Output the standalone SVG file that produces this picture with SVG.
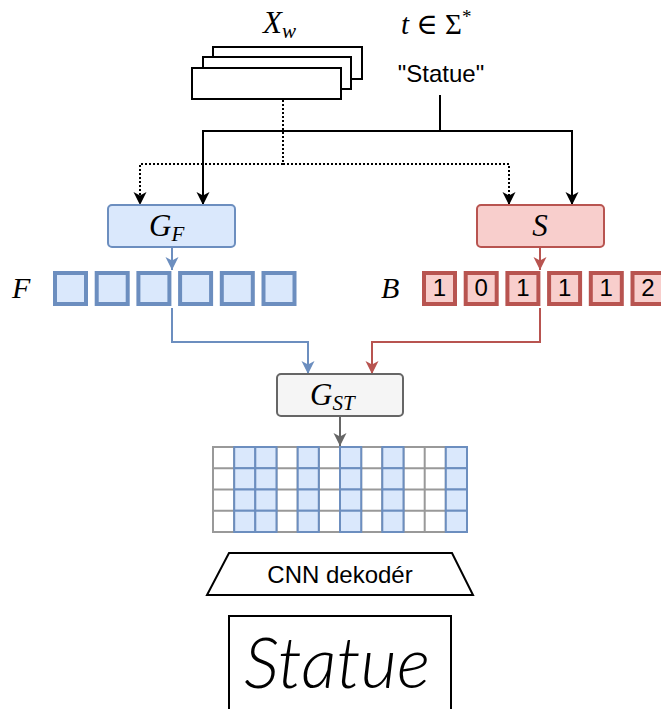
<svg xmlns="http://www.w3.org/2000/svg" width="661" height="709" viewBox="0 0 661 709">
  <style>
    .math { font-family: "Liberation Serif", "DejaVu Serif", serif; font-style: italic; fill: #000; }
    .up { font-style: normal; }
    .sans { font-family: "Liberation Sans", Arial, sans-serif; fill: #000; }
    .hand { font-family: "Lato", "Roboto", "Open Sans", sans-serif; font-weight: 300; font-style: italic; fill: #000; }
    .blk { fill: #fff; stroke: #000; stroke-width: 2; }
    .wire { fill: none; stroke-width: 2; }
    .cell-f { fill: #dae8fc; stroke: #6c8ebf; stroke-width: 4; }
    .cell-b { fill: #f8cecc; stroke: #b85450; stroke-width: 4; }
    .gcell { fill: #dae8fc; stroke: #6c8ebf; stroke-width: 2; }
  </style>
  <defs>
    <marker id="ah-black" viewBox="0 0 14 14" refX="13" refY="7" markerWidth="14" markerHeight="14" markerUnits="userSpaceOnUse" orient="auto">
      <path d="M0,0.5 L13,7 L0,13.5 L3.5,7 z" fill="#000"/>
    </marker>
    <marker id="ah-blue" viewBox="0 0 14 14" refX="13" refY="7" markerWidth="14" markerHeight="14" markerUnits="userSpaceOnUse" orient="auto">
      <path d="M0,0.5 L13,7 L0,13.5 L3.5,7 z" fill="#6c8ebf"/>
    </marker>
    <marker id="ah-red" viewBox="0 0 14 14" refX="13" refY="7" markerWidth="14" markerHeight="14" markerUnits="userSpaceOnUse" orient="auto">
      <path d="M0,0.5 L13,7 L0,13.5 L3.5,7 z" fill="#b85450"/>
    </marker>
    <marker id="ah-gray" viewBox="0 0 14 14" refX="13" refY="7" markerWidth="14" markerHeight="14" markerUnits="userSpaceOnUse" orient="auto">
      <path d="M0,0.5 L13,7 L0,13.5 L3.5,7 z" fill="#666"/>
    </marker>
  </defs>

  <!-- connectors -->
  <g id="connectors">
    <path class="wire" stroke="#000" stroke-dasharray="2 2" d="M283,100 V164 H140 V205" marker-end="url(#ah-black)"/>
    <path class="wire" stroke="#000" stroke-dasharray="2 2" d="M283,164 H509 V205" marker-end="url(#ah-black)"/>
    <path class="wire" stroke="#000" d="M440,95 V131 H203 V205" marker-end="url(#ah-black)"/>
    <path class="wire" stroke="#000" d="M440,131 H572 V205" marker-end="url(#ah-black)"/>
    <path class="wire" stroke="#6c8ebf" stroke-width="1.5" d="M172,247 V270" marker-end="url(#ah-blue)"/>
    <path class="wire" stroke="#6c8ebf" stroke-width="1.5" d="M172,308 V342 H308 V374" marker-end="url(#ah-blue)"/>
    <path class="wire" stroke="#b85450" stroke-width="1.5" d="M540,247 V270" marker-end="url(#ah-red)"/>
    <path class="wire" stroke="#b85450" stroke-width="1.5" d="M540,308 V342 H372 V374" marker-end="url(#ah-red)"/>
    <path class="wire" stroke="#666" stroke-width="1.5" d="M340,416 V446" marker-end="url(#ah-gray)"/>
  </g>

  <!-- stack of input word images -->
  <g id="xw">
    <rect class="blk" x="213" y="47" width="149" height="32"/>
    <rect class="blk" x="203" y="57" width="148" height="32"/>
    <rect class="blk" x="192" y="68" width="149" height="31"/>
    <text class="math" x="263" y="33" font-size="31">X<tspan font-size="21" dy="5">w</tspan></text>
  </g>

  <!-- transcription input -->
  <g id="text-input">
    <text class="math" x="401" y="34" font-size="29">t <tspan class="up">∈ Σ</tspan><tspan class="up" font-size="19" dy="-11">*</tspan></text>
    <text class="sans" x="441" y="82" font-size="24" text-anchor="middle">"Statue"</text>
  </g>

  <!-- feature generator -->
  <g id="gf">
    <rect x="108" y="205" width="127" height="42" rx="4" fill="#dae8fc" stroke="#6c8ebf" stroke-width="2"/>
    <text class="math" x="149" y="236" font-size="31">G<tspan font-size="21" dy="5">F</tspan></text>
  </g>

  <!-- spacing predictor -->
  <g id="s">
    <rect x="477" y="205" width="127" height="42" rx="4" fill="#f8cecc" stroke="#b85450" stroke-width="2"/>
    <text class="math" x="540" y="236" font-size="31" text-anchor="middle">S</text>
  </g>

  <!-- feature vector F -->
  <g id="f-row">
    <text class="math" x="12" y="298" font-size="30">F</text>
    <rect class="cell-f" x="55" y="273" width="31" height="31"/>
    <rect class="cell-f" x="96.7" y="273" width="31" height="31"/>
    <rect class="cell-f" x="138.4" y="273" width="31" height="31"/>
    <rect class="cell-f" x="180.1" y="273" width="31" height="31"/>
    <rect class="cell-f" x="221.8" y="273" width="31" height="31"/>
    <rect class="cell-f" x="263.5" y="273" width="31" height="31"/>
  </g>

  <!-- spacing vector B -->
  <g id="b-row">
    <text class="math" x="381" y="298" font-size="30">B</text>
    <rect class="cell-b" x="424" y="273" width="31" height="31"/>
    <rect class="cell-b" x="465.7" y="273" width="31" height="31"/>
    <rect class="cell-b" x="507.4" y="273" width="31" height="31"/>
    <rect class="cell-b" x="549.1" y="273" width="31" height="31"/>
    <rect class="cell-b" x="590.8" y="273" width="31" height="31"/>
    <rect class="cell-b" x="632.5" y="273" width="31" height="31"/>
    <g class="sans" font-size="24" text-anchor="middle">
      <text x="439.5" y="296">1</text>
      <text x="481.2" y="296">0</text>
      <text x="522.9" y="296">1</text>
      <text x="564.6" y="296">1</text>
      <text x="606.3" y="296">1</text>
      <text x="648" y="296">2</text>
    </g>
  </g>

  <!-- spatial-temporal assembly -->
  <g id="gst">
    <rect x="277" y="374" width="126" height="42" rx="4" fill="#f5f5f5" stroke="#666" stroke-width="2"/>
    <text class="math" x="310" y="405" font-size="31">G<tspan font-size="21" dy="5">ST</tspan></text>
  </g>

  <!-- assembled feature map -->
  <g id="feature-map">
    <rect x="213" y="447" width="254" height="85" fill="#fff" stroke="#999" stroke-width="2"/>
    <path fill="none" stroke="#999" stroke-width="2" d="M234.2,447 V532 M255.3,447 V532 M276.5,447 V532 M297.7,447 V532 M318.8,447 V532 M340,447 V532 M361.2,447 V532 M382.3,447 V532 M403.5,447 V532 M424.7,447 V532 M445.8,447 V532 M213,468.25 H467 M213,489.5 H467 M213,510.75 H467"/>
    <g>
      <rect class="gcell" x="234.2" y="447" width="21.1" height="21.25"/>
      <rect class="gcell" x="234.2" y="468.25" width="21.1" height="21.25"/>
      <rect class="gcell" x="234.2" y="489.5" width="21.1" height="21.25"/>
      <rect class="gcell" x="234.2" y="510.75" width="21.1" height="21.25"/>
      <rect class="gcell" x="255.3" y="447" width="21.2" height="21.25"/>
      <rect class="gcell" x="255.3" y="468.25" width="21.2" height="21.25"/>
      <rect class="gcell" x="255.3" y="489.5" width="21.2" height="21.25"/>
      <rect class="gcell" x="255.3" y="510.75" width="21.2" height="21.25"/>
      <rect class="gcell" x="297.7" y="447" width="21.1" height="21.25"/>
      <rect class="gcell" x="297.7" y="468.25" width="21.1" height="21.25"/>
      <rect class="gcell" x="297.7" y="489.5" width="21.1" height="21.25"/>
      <rect class="gcell" x="297.7" y="510.75" width="21.1" height="21.25"/>
      <rect class="gcell" x="340" y="447" width="21.2" height="21.25"/>
      <rect class="gcell" x="340" y="468.25" width="21.2" height="21.25"/>
      <rect class="gcell" x="340" y="489.5" width="21.2" height="21.25"/>
      <rect class="gcell" x="340" y="510.75" width="21.2" height="21.25"/>
      <rect class="gcell" x="382.3" y="447" width="21.2" height="21.25"/>
      <rect class="gcell" x="382.3" y="468.25" width="21.2" height="21.25"/>
      <rect class="gcell" x="382.3" y="489.5" width="21.2" height="21.25"/>
      <rect class="gcell" x="382.3" y="510.75" width="21.2" height="21.25"/>
      <rect class="gcell" x="445.8" y="447" width="21.2" height="21.25"/>
      <rect class="gcell" x="445.8" y="468.25" width="21.2" height="21.25"/>
      <rect class="gcell" x="445.8" y="489.5" width="21.2" height="21.25"/>
      <rect class="gcell" x="445.8" y="510.75" width="21.2" height="21.25"/>
    </g>
  </g>

  <!-- decoder -->
  <g id="decoder">
    <polygon class="blk" points="229,553 452,553 473,595 207,595"/>
    <text class="sans" x="340" y="583" font-size="24" text-anchor="middle">CNN dekodér</text>
  </g>

  <!-- generated word image -->
  <g id="output">
    <rect class="blk" x="229" y="616" width="222" height="100"/>
    <text class="hand" x="244" y="688" font-size="72" textLength="186" lengthAdjust="spacingAndGlyphs">Statue</text>
  </g>
</svg>
